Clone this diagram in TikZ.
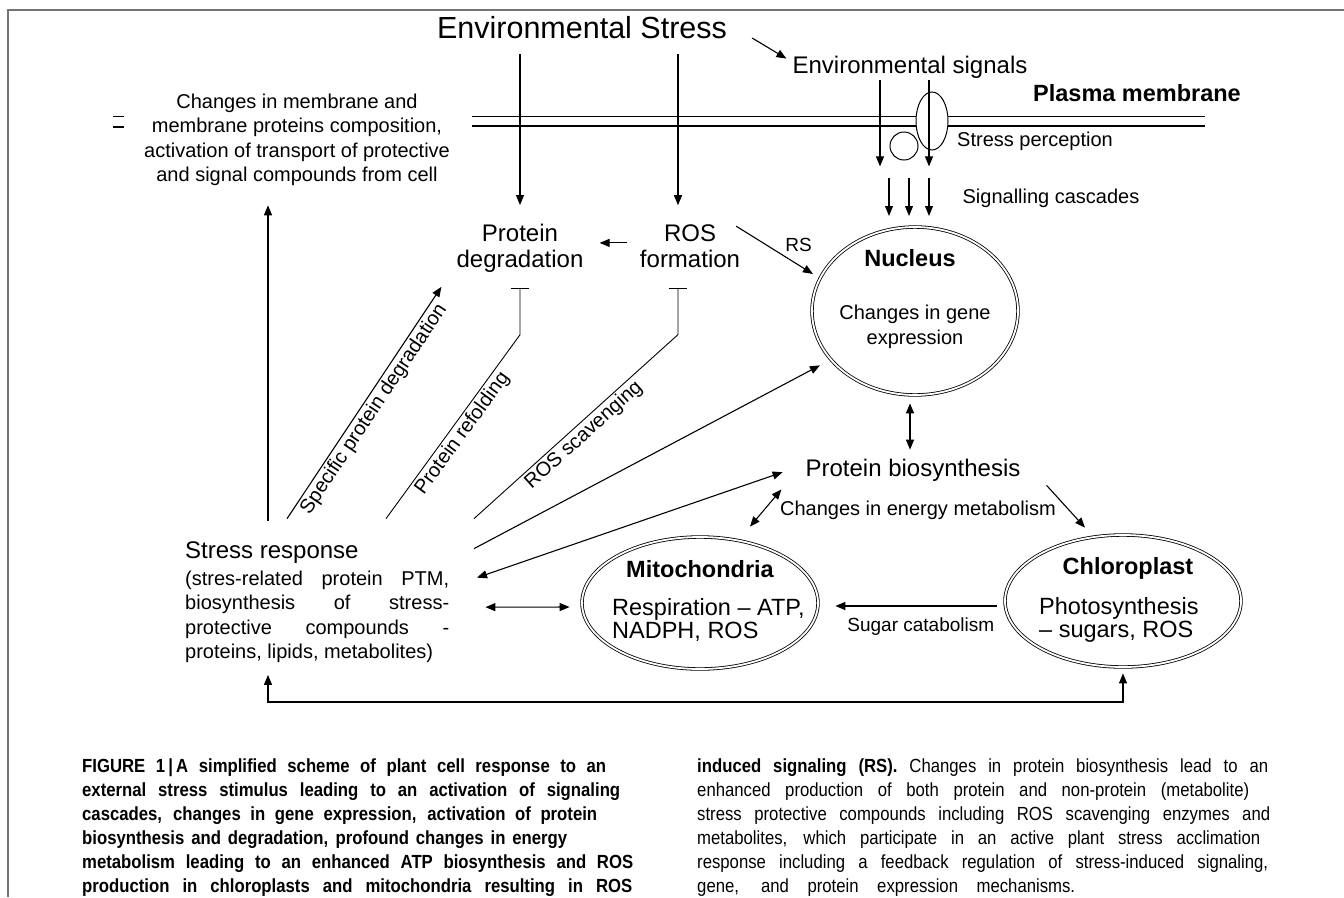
\documentclass[tikz,border=0pt]{standalone}
\usepackage{fontspec}
\setmainfont{Liberation Sans}
\newfontfamily\capfont[FakeStretch=0.88]{Liberation Sans}
\usetikzlibrary{arrows.meta,shapes.geometric,positioning}
\definecolor{framegray}{HTML}{747474}

\begin{document}
\begin{tikzpicture}[
        x=1pt, y=-1pt,
        bigtxt/.style={
            font=\fontsize{24}{26}\selectfont,
            align=center,
            inner sep=2pt
        },
        smalltxt/.style={
            font=\fontsize{20}{24.5}\selectfont,
            align=center,
            inner sep=2pt
        },
        boldtxt/.style={
            font=\fontsize{23.5}{26}\selectfont\bfseries,
            inner sep=2pt
        },
        organelle/.style={
            ellipse,
            draw=black,
            double=white,
            double distance=1.8pt,
            line width=0.8pt,
            minimum width=236pt,
            minimum height=132pt,
            inner sep=0pt
        },
        arrow/.style={
            -{Triangle[length=10pt, width=8pt]},
            line width=1.1pt
        },
        dblarrow/.style={
            {Triangle[length=10pt, width=8pt]}-{Triangle[length=10pt, width=8pt]},
            line width=1.1pt
        },
        inhibit/.style={
            -{Bar[width=18pt, line width=1pt]},
            line width=0.9pt
        },
        capbold/.style={
            font=\capfont\fontsize{19}{24}\selectfont\bfseries,
            anchor=base west,
            inner sep=0pt
        },
        capreg/.style={
            font=\capfont\fontsize{19}{24}\selectfont,
            anchor=base west,
            inner sep=0pt
        }
    ]

    \useasboundingbox (0,0) rectangle (1344,897);

    % --- Frame ---
    \draw[framegray, line width=2pt] (8,897) -- (8,10) -- (1344,10);

    % --- Part 1: Stress input and plasma membrane ---
    \node[font=\fontsize{30.5}{32}\selectfont, inner sep=2pt] (title) at (582,28) {Environmental Stress};
    \node[bigtxt] (envsig) at (910,67) {Environmental signals};
    \node[boldtxt] (pmlabel) at (1137,93) {Plasma membrane};

    \coordinate (membL) at (472,116);
    \coordinate (membR) at (1205,116);
    \draw[line width=1pt] (membL) -- (membR);
    \draw[line width=1.6pt] ([yshift=-10pt]membL) -- ([yshift=-10pt]membR);
    \draw[line width=1pt] (113,116) -- (124,116);
    \draw[line width=1.6pt] (113,127) -- (124,127);

    \node[circle, draw, fill=white, line width=1pt, minimum size=28pt] (coreceptor) at (904,146) {};
    \node[ellipse, draw, fill=white, line width=1pt, minimum width=32pt, minimum height=58pt] (receptor) at (932,121) {};

    \draw[arrow] ([xshift=23pt, yshift=-10pt]title.east) -- ([xshift=-4pt, yshift=-5pt]envsig.north west);
    \draw[arrow] ([xshift=-30pt]envsig.south) -- ++(0,86);
    \draw[arrow] ([xshift=19pt]envsig.south) -- ++(0,86);

    \node[smalltxt] (perception) at (1035,141) {Stress perception};
    \coordinate (casc) at (909,178);
    \foreach \dx in {-20,0,20}
        \draw[arrow] ([xshift=\dx pt]casc) -- ++(0,38);
    \node[smalltxt] (cascades) at (1051,198) {Signalling cascades};

    \node[smalltxt] (membtext) at (297,140) {Changes in membrane and\\membrane proteins composition,\\activation of transport of protective\\and signal compounds from cell};

    % --- Part 2: Protein degradation and ROS ---
    \node[bigtxt] (protdeg) at (520,248.4) {Protein\\degradation};
    \node[bigtxt] (rosform) at (690,245.9) {ROS\\formation};

    \coordinate (rosin) at ([xshift=-12pt]rosform.north);
    \draw[arrow, shorten <=13pt, shorten >=17pt] (title.south -| protdeg.north) -- (protdeg.north);
    \draw[arrow, shorten <=13pt, shorten >=17pt] (title.south -| rosin) -- (rosin);

    \coordinate (rosw) at ([yshift=3pt]rosform.west);
    \draw[arrow, shorten <=11pt, shorten >=14pt] (rosw) -- (rosw -| protdeg.east);

    % --- Part 3: Nucleus ---
    \node[organelle, minimum width=206pt, minimum height=168pt] (nucleus) at (915,311) {};
    \node[boldtxt] (nuctitle) at (910,258) {Nucleus};
    \node[smalltxt] (nuctext) at (915,327) {Changes in gene\\expression};

    \draw[arrow, shorten >=8pt] ([xshift=-6pt, yshift=-4pt]rosform.north east) -- node[pos=0.55, above right=-1pt, font=\fontsize{19}{20}\selectfont] (rslabel) {RS} (nucleus.161);

    \node[bigtxt] (protbio) at (913,470) {Protein biosynthesis};
    \draw[dblarrow, shorten <=8pt, shorten >=7pt] (nuctitle |- nucleus.south) -- (nuctitle |- protbio.north);
    \node[smalltxt] (energy) at (918,510) {Changes in energy metabolism};

    % --- Part 4: Mitochondria and chloroplast ---
    \node[organelle] (mito) at (700,603) {};
    \node[boldtxt] (mitotitle) at (700,569) {Mitochondria};
    \node[bigtxt, font=\fontsize{23.5}{23}\selectfont, align=left, anchor=west] (mitotext) at (610,620) {Respiration -- ATP,\\NADPH, ROS};

    \node[organelle] (chloro) at (1123,601) {};
    \node[boldtxt] (chlorotitle) at (1128,568) {Chloroplast};
    \node[bigtxt, font=\fontsize{23.5}{23}\selectfont, align=left, anchor=west] (chlorotext) at (1037,620) {Photosynthesis\\-- sugars, ROS};

    \draw[dblarrow] ([xshift=-22pt, yshift=-6pt]protbio.south west) -- ([xshift=50pt, yshift=10pt]mito.north);
    \draw[arrow] ([xshift=24pt, yshift=-2pt]protbio.south east) -- ([xshift=-38pt, yshift=7pt]chloro.north);

    \coordinate (chlw) at ([yshift=-5pt]chloro.west);
    \draw[arrow, shorten <=8pt, shorten >=17pt] (chlw) -- node[pos=0.45, below=9pt, inner sep=2pt, font=\fontsize{19}{20}\selectfont] (sugarlbl) {Sugar catabolism} (chlw -| mito.east);

    % --- Part 5: Stress response ---
    \node[bigtxt, anchor=base west, inner sep=0pt] (stresshead) at (185,558.6) {Stress response};
    \node[smalltxt, align=left, anchor=north west, inner sep=0pt] (stress) at (185,570.4) {\makebox[264pt][s]{(stres-related protein PTM,}\\\makebox[264pt][s]{biosynthesis of stress-}\\\makebox[264pt][s]{protective compounds -}\\proteins, lipids, metabolites)};

    \coordinate (sr1) at ([xshift=83pt, yshift=21pt]stresshead.north west);
    \coordinate (sr2) at ([xshift=102pt, yshift=23pt]stresshead.north west);
    \coordinate (sr3) at ([xshift=201pt, yshift=23pt]stresshead.north west);
    \coordinate (sr4) at ([xshift=289pt, yshift=23pt]stresshead.north west);
    \coordinate (sr5) at ([xshift=289pt, yshift=-7pt]stresshead.north west);
    \coordinate (sr6) at ([xshift=292pt, yshift=-36pt]stresshead.north west);

    \draw[arrow, shorten >=17pt] (sr1) -- (sr1 |- membtext.south);
    \draw[arrow] (sr2) -- node[midway, sloped, below, smalltxt] (spdlabel) {Specific protein degradation} ([xshift=-13pt, yshift=-12pt]protdeg.south west);
    \draw[inhibit] (sr3) -- node[midway, sloped, below, smalltxt] (reflabel) {Protein refolding} ([yshift=-60pt]protdeg.south) -- ([yshift=-13pt]protdeg.south);
    \draw[inhibit] (sr4) -- node[midway, sloped, below, smalltxt] (scavlabel) {ROS scavenging} ([xshift=-12pt, yshift=-65pt]rosform.south) -- ([xshift=-12pt, yshift=-18pt]rosform.south);
    \draw[arrow, shorten >=12pt] (sr5) -- (nucleus.210);
    \draw[dblarrow, shorten >=22pt] (sr6) -- ([yshift=5pt]protbio.west);
    \draw[dblarrow, shorten >=12pt] ([xshift=36pt, yshift=9.5pt]stress.east) -- ([yshift=-4pt]mito.west);

    \coordinate (busy) at (700,702);
    \draw[dblarrow] ([xshift=83pt, yshift=-12pt]stress.south west) |- (busy) -| ([yshift=-6pt]chloro.south);

    % --- Part 6: Caption ---
    \node[capbold] (capL1) at (82,772) {\makebox[524pt][s]{FIGURE 1\,|\,A simplified scheme of plant cell response to an}};
    \node[capbold] (capL2) at (82,796) {\makebox[538pt][s]{external stress stimulus leading to an activation of signaling}};
    \node[capbold] (capL3) at (82,820) {\makebox[515pt][s]{cascades, changes in gene expression, activation of protein}};
    \node[capbold] (capL4) at (82,844) {\makebox[485pt][s]{biosynthesis and degradation, profound changes in energy}};
    \node[capbold] (capL5) at (82,868) {\makebox[551pt][s]{metabolism leading to an enhanced ATP biosynthesis and ROS}};
    \node[capbold] (capL6) at (82,892) {\makebox[550pt][s]{production in chloroplasts and mitochondria resulting in ROS}};

    \node[capreg] (capR1) at (697,772) {\makebox[571pt][s]{\textbf{induced signaling (RS).} Changes in protein biosynthesis lead to an}};
    \node[capreg] (capR2) at (697,796) {\makebox[552pt][s]{enhanced production of both protein and non-protein (metabolite)}};
    \node[capreg] (capR3) at (697,820) {\makebox[573pt][s]{stress protective compounds including ROS scavenging enzymes and}};
    \node[capreg] (capR4) at (697,844) {\makebox[563pt][s]{metabolites, which participate in an active plant stress acclimation}};
    \node[capreg] (capR5) at (697,868) {\makebox[571pt][s]{response including a feedback regulation of stress-induced signaling,}};
    \node[capreg] (capR6) at (697,892) {\makebox[378pt][s]{gene, and protein expression mechanisms.}};

\end{tikzpicture}
\end{document}
